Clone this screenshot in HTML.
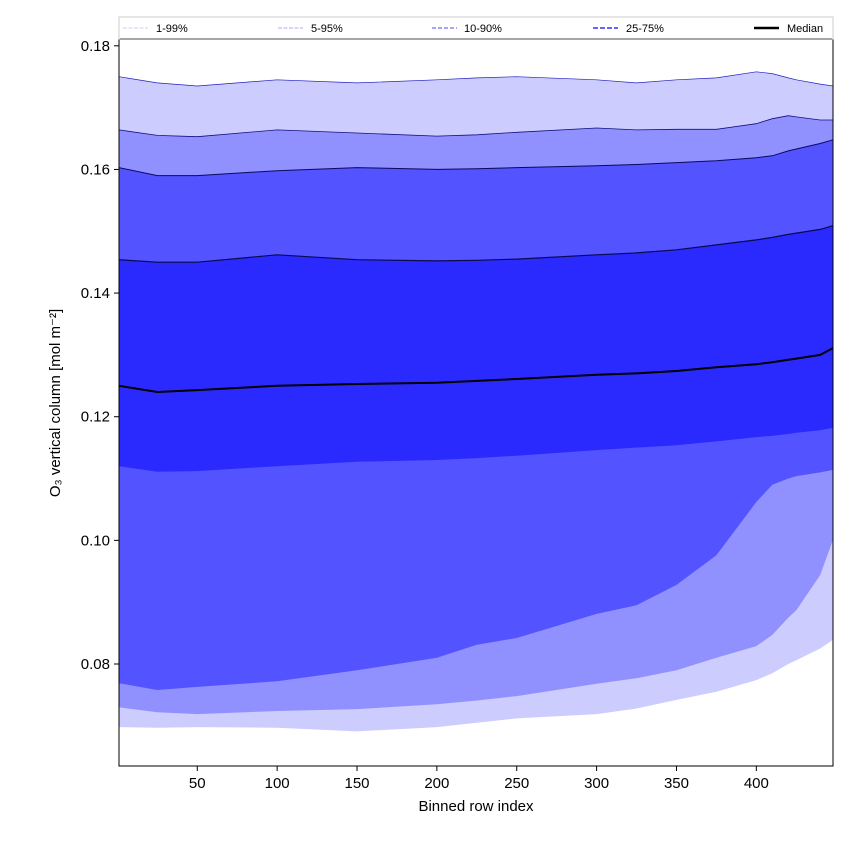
<!DOCTYPE html>
<html><head><meta charset="utf-8"><style>
body{margin:0;background:#fff;}
svg text{font-family:"Liberation Sans","DejaVu Sans",sans-serif;}
</style></head><body>
<svg id="chart" width="850" height="850" xmlns="http://www.w3.org/2000/svg">
<g id="bands"></g>
<g id="lines"></g>
<rect x="119" y="39" width="714" height="727" fill="none" stroke="#000" stroke-width="1"/>
<g id="xticks"></g>
<g id="yticks"></g>
<text x="476" y="811" font-size="15" text-anchor="middle">Binned row index</text>
<text transform="translate(60,403) rotate(-90)" font-size="15" text-anchor="middle">O₃ vertical column [mol m⁻²]</text>
<g>
<rect x="119" y="17" width="714" height="22" fill="#fff" stroke="#ccc" stroke-width="1"/>
<line x1="120" y1="39" x2="832" y2="39" stroke="#888" stroke-width="1.5"/>
<g><line x1="123" y1="28" x2="148" y2="28" stroke="#ccccff" stroke-width="1" stroke-dasharray="4,1.5"/><text x="156" y="32" font-size="11">1-99%</text></g>
<g><line x1="278" y1="28" x2="303" y2="28" stroke="#aaaaff" stroke-width="1" stroke-dasharray="4,1.5"/><text x="311" y="32" font-size="11">5-95%</text></g>
<g><line x1="432" y1="28" x2="457" y2="28" stroke="#8888ff" stroke-width="1.5" stroke-dasharray="4,2"/><text x="464" y="32" font-size="11">10-90%</text></g>
<g><line x1="593" y1="28" x2="618" y2="28" stroke="#6666ff" stroke-width="2" stroke-dasharray="5,2"/><text x="626" y="32" font-size="11">25-75%</text></g>
<g><line x1="754" y1="28" x2="779" y2="28" stroke="#000" stroke-width="2.5"/><text x="787" y="32" font-size="11">Median</text></g>
</g>
</svg>
<script>
const xIdx = [1, 25, 50, 100, 150, 200, 225, 250, 300, 325, 350, 375, 400, 410, 420, 425, 440, 448];
const p99 = [0.1750,0.1740,0.1735,0.1745,0.1740,0.1745,0.1748,0.1750,0.1745,0.1740,0.1745,0.1748,0.1758,0.1755,0.1748,0.1745,0.1738,0.1735];
const p95 = [0.1664,0.1655,0.1653,0.1664,0.1659,0.1654,0.1656,0.1660,0.1667,0.1664,0.1665,0.1665,0.1674,0.1682,0.1687,0.1685,0.1680,0.1680];
const p90 = [0.1603,0.1590,0.1590,0.1598,0.1603,0.1600,0.1601,0.1603,0.1606,0.1608,0.1611,0.1614,0.1619,0.1622,0.1630,0.1633,0.1642,0.1648];
const p75 = [0.1454,0.1450,0.1450,0.1462,0.1454,0.1452,0.1453,0.1455,0.1462,0.1465,0.1470,0.1478,0.1486,0.1490,0.1495,0.1497,0.1503,0.1509];
const p50 = [0.1250,0.1240,0.1243,0.1250,0.1253,0.1255,0.1258,0.1261,0.1268,0.1270,0.1274,0.1280,0.1285,0.1288,0.1292,0.1294,0.1300,0.1311];
const p25 = [0.1120,0.1111,0.1112,0.1120,0.1127,0.1130,0.1133,0.1137,0.1146,0.1150,0.1154,0.1160,0.1167,0.1169,0.1172,0.1174,0.1178,0.1182];
const p10 = [0.0769,0.0758,0.0763,0.0772,0.0790,0.0810,0.0831,0.0842,0.0881,0.0895,0.0928,0.0976,0.1062,0.1090,0.1100,0.1104,0.1110,0.1114];
const p5  = [0.0730,0.0722,0.0719,0.0724,0.0727,0.0735,0.0741,0.0748,0.0768,0.0777,0.0790,0.0810,0.0829,0.0847,0.0875,0.0887,0.0944,0.1001];
const p1  = [0.0698,0.0697,0.0698,0.0697,0.0691,0.0698,0.0705,0.0712,0.0719,0.0728,0.0742,0.0755,0.0774,0.0785,0.0800,0.0806,0.0825,0.0839];
const xTicks = [50,100,150,200,250,300,350,400];
const yTicks = [0.08,0.10,0.12,0.14,0.16,0.18];
const yTickLabels = ["0.08","0.10","0.12","0.14","0.16","0.18"];

const X0=119,X1=833,Y0=766,Y1=39, xMin=1,xMax=448, yMin=0.0635, yMax=0.1811;
const sx=v=>X0+(v-xMin)/(xMax-xMin)*(X1-X0);
const sy=v=>Y0-(v-yMin)/(yMax-yMin)*(Y0-Y1);
const NS="http://www.w3.org/2000/svg";
const bands=document.getElementById('bands'), lines=document.getElementById('lines');
function pts(arr){return xIdx.map((x,i)=>sx(x).toFixed(1)+','+sy(arr[i]).toFixed(1));}
function band(lo,hi,color,name){
  const p=document.createElementNS(NS,'polygon');
  p.setAttribute('points',pts(hi).concat(pts(lo).reverse()).join(' '));
  p.setAttribute('fill',color);
  
  
  bands.appendChild(p);
}
band(p1,p99,'#ccccff','band-1-99');
band(p5,p95,'#9090ff','band-5-95');
band(p10,p90,'#5353ff','band-10-90');
band(p25,p75,'#2a2aff','band-25-75');
function line(arr,color,w,name){
  const p=document.createElementNS(NS,'polyline');
  p.setAttribute('points',pts(arr).join(' '));
  p.setAttribute('fill','none');p.setAttribute('stroke',color);p.setAttribute('stroke-width',w);
  
  
  lines.appendChild(p);
}
line(p99,'#2020c0',0.7,'line-p99');
line(p95,'#101080',0.8,'line-p95');
line(p90,'#0a0a60',1,'line-p90');
line(p75,'#0a0a50',1.2,'line-p75');
line(p50,'#000',2,'line-median');
const xt=document.getElementById('xticks');
xTicks.forEach(t=>{
  const g=document.createElementNS(NS,'g');
  
  
  g.innerHTML=`<line x1="${sx(t)}" y1="766" x2="${sx(t)}" y2="771" stroke="#000"/><text x="${sx(t)}" y="788" font-size="15" text-anchor="middle">${t}</text>`;
  xt.appendChild(g);
});
const yt=document.getElementById('yticks');
yTicks.forEach((t,i)=>{
  const g=document.createElementNS(NS,'g');
  
  
  g.innerHTML=`<line x1="114" y1="${sy(t)}" x2="119" y2="${sy(t)}" stroke="#000"/><text x="110" y="${sy(t)+5}" font-size="15" text-anchor="end">${yTickLabels[i]}</text>`;
  yt.appendChild(g);
});
</script>
</body></html>
